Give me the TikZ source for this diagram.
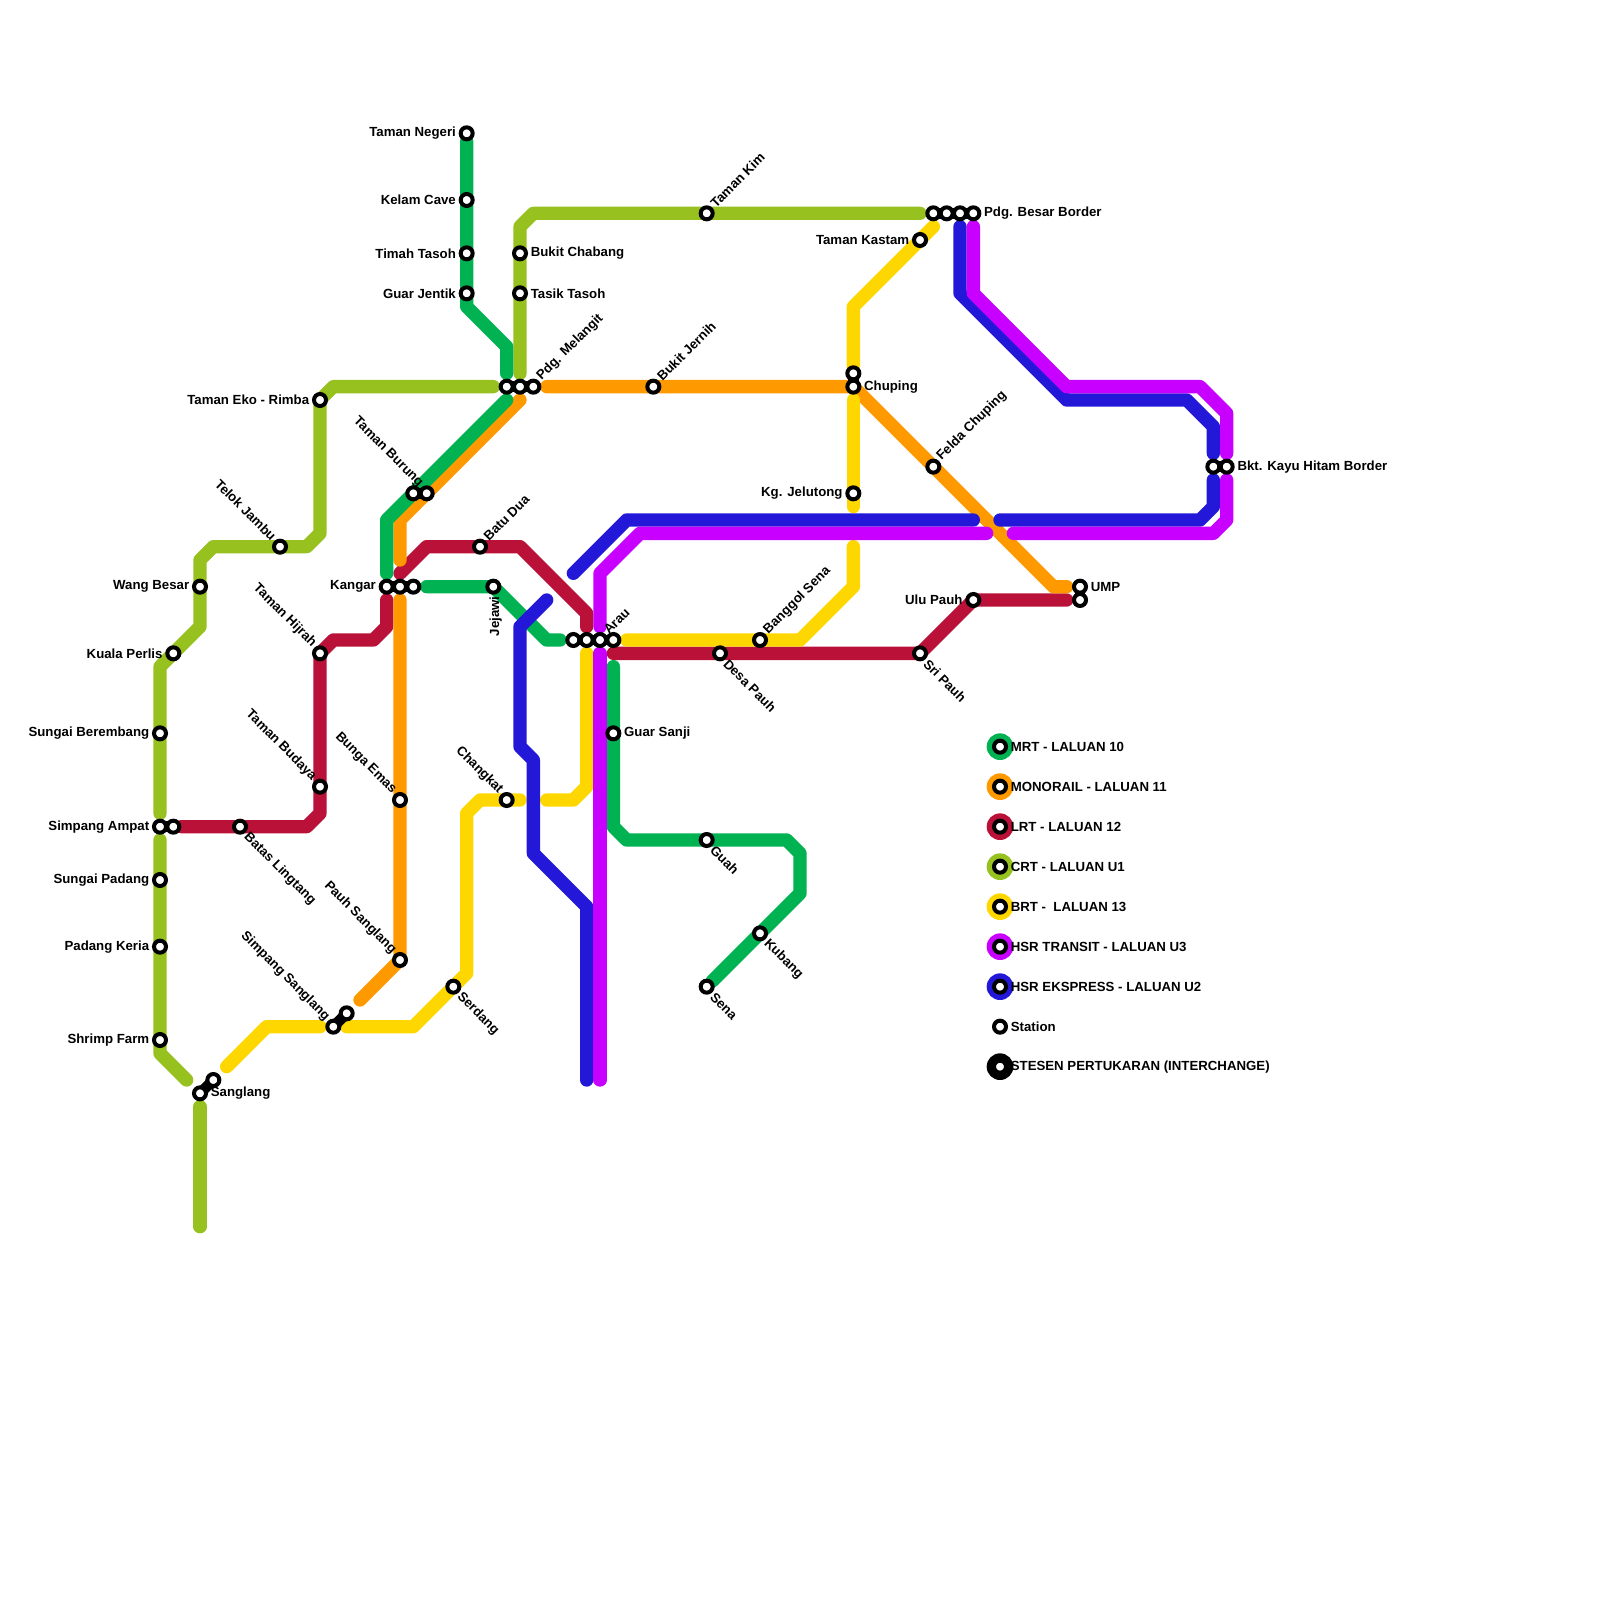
\documentclass[tikz,border=0pt]{standalone}
\usepackage{fontspec}
\setmainfont{Liberation Sans}
\usepackage{xcolor}
\usepackage{tikz}
\usetikzlibrary{backgrounds}

\definecolor{mrtgreen}{HTML}{00B251}
\definecolor{monoorange}{HTML}{FF9900}
\definecolor{lrtred}{HTML}{BA1139}
\definecolor{crtlime}{HTML}{96C11E}
\definecolor{brtyellow}{HTML}{FFD700}
\definecolor{transitpurple}{HTML}{C800FF}
\definecolor{ekspressblue}{HTML}{2318D8}

\begin{document}
\begin{tikzpicture}[
    x=0.2cm, y=-0.2cm,
    station/.style={draw=black, fill=white, circle, line width=0.06cm, minimum size=0.18cm, inner sep=0pt},
    swatch/.style={circle, minimum size=0.4cm, inner sep=0pt},
    every label/.style={font=\bfseries\fontsize{5.65}{6.5}\selectfont, inner sep=0pt, text=black},
    label distance=1pt,
    lbne/.style={rotate=45, anchor=west},
    lbnw/.style={rotate=-45, anchor=east},
    lbse/.style={rotate=-45, anchor=west},
    lbdown/.style={rotate=90, anchor=east, xshift=-0.6pt},
    route/.style={line width=0.2cm, line cap=round, line join=round},
    mrt/.style={route, draw=mrtgreen},
    mono/.style={route, draw=monoorange},
    lrt/.style={route, draw=lrtred},
    crt/.style={route, draw=crtlime},
    brt/.style={route, draw=brtyellow},
    transit/.style={route, draw=transitpurple},
    ekspress/.style={route, draw=ekspressblue},
    link/.style={draw=black, line width=0.16cm}
]

\useasboundingbox (0,0) rectangle (120,120);

% MRT
\node[station, label={180:Taman Negeri}] (tamanNegeri) at (35,10) {};
\node[station, label={180:Kelam Cave}] (kelamCave) at (35,15) {};
\node[station, label={180:Timah Tasoh}] (timahTasoh) at (35,19) {};
\node[station, label={180:Guar Jentik}] (guarJentik) at (35,22) {};
\node[station, label={[lbdown]270:Jejawi}] (jejawi) at (37,44) {};
\node[station, label={0:Guar Sanji}] (guarSanji) at (46,55) {};
\node[station, label={[lbse]-45:Guah}] (guah) at (53,63) {};
\node[station, label={[lbse]-45:Kubang}] (kubang) at (57,70) {};
\node[station, label={[lbse]-45:Sena}] (sena) at (53,74) {};

% interchanges
\node[station] (melangitA) at (38,29) {};
\node[station] (melangitB) at (39,29) {};
\node[station, label={[lbne]45:Pdg. Melangit}] (melangitC) at (40,29) {};
\node[station] (burungA) at (31,37) {};
\node[station, label={[lbnw]135:Taman Burung}] (burungB) at (32,37) {};
\node[station, label={180:Kangar}] (kangarA) at (29,44) {};
\node[station] (kangarB) at (30,44) {};
\node[station] (kangarC) at (31,44) {};
\node[station] (arauA) at (43,48) {};
\node[station] (arauB) at (44,48) {};
\node[station, label={[lbne]45:Arau}] (arauC) at (45,48) {};
\node[station] (arauD) at (46,48) {};
\node[station] (besarA) at (70,16) {};
\node[station] (besarB) at (71,16) {};
\node[station] (besarC) at (72,16) {};
\node[station, label={0:Pdg. Besar Border}] (besarD) at (73,16) {};
\node[station] (hitamA) at (91,35) {};
\node[station, label={0:Bkt. Kayu Hitam Border}] (hitamB) at (92,35) {};
\node[station, label={0:UMP}] (umpA) at (81,44) {};
\node[station] (umpB) at (81,45) {};
\node[station] (chupingA) at (64,28) {};
\node[station, label={0:Chuping}] (chupingB) at (64,29) {};
\node[station, label={[lbnw]135:Simpang Sanglang}] (simpangA) at (25,77) {};
\node[station] (simpangB) at (26,76) {};
\node[station, label={0:Sanglang}] (sanglangA) at (15,82) {};
\node[station] (sanglangB) at (16,81) {};
\node[station, label={180:Simpang Ampat}] (ampatA) at (12,62) {};
\node[station] (ampatB) at (13,62) {};

% Monorail
\node[station, label={[lbne]45:Bukit Jernih}] (bukitJernih) at (49,29) {};
\node[station, label={[lbne]45:Felda Chuping}] (feldaChuping) at (70,35) {};
\node[station, label={[lbnw]135:Bunga Emas}] (bungaEmas) at (30,60) {};
\node[station, label={[lbnw]135:Pauh Sanglang}] (pauhSanglang) at (30,72) {};

% LRT
\node[station, label={[lbse]-45:Batas Lingtang}] (batasLingtang) at (18,62) {};
\node[station, label={[lbnw]135:Taman Budaya}] (tamanBudaya) at (24,59) {};
\node[station, label={[lbnw]135:Taman Hijrah}] (tamanHijrah) at (24,49) {};
\node[station, label={[lbne]45:Batu Dua}] (batuDua) at (36,41) {};
\node[station, label={[lbse]-45:Desa Pauh}] (desaPauh) at (54,49) {};
\node[station, label={[lbse]-45:Sri Pauh}] (sriPauh) at (69,49) {};
\node[station, label={180:Ulu Pauh}] (uluPauh) at (73,45) {};

% CRT
\node[station, label={180:Taman Eko - Rimba}] (tamanEko) at (24,30) {};
\node[station, label={[lbnw]135:Telok Jambu}] (telokJambu) at (21,41) {};
\node[station, label={180:Wang Besar}] (wangBesar) at (15,44) {};
\node[station, label={180:Kuala Perlis}] (kualaPerlis) at (13,49) {};
\node[station, label={180:Sungai Berembang}] (sungaiBerembang) at (12,55) {};
\node[station, label={180:Sungai Padang}] (sungaiPadang) at (12,66) {};
\node[station, label={180:Padang Keria}] (padangKeria) at (12,71) {};
\node[station, label={180:Shrimp Farm}] (shrimpFarm) at (12,78) {};
\node[station, label={0:Bukit Chabang}] (bukitChabang) at (39,19) {};
\node[station, label={0:Tasik Tasoh}] (tasikTasoh) at (39,22) {};
\node[station, label={[lbne]45:Taman Kim}] (tamanKim) at (53,16) {};

% BRT
\node[station, label={[lbse]-45:Serdang}] (serdang) at (34,74) {};
\node[station, label={[lbnw]135:Changkat}] (changkat) at (38,60) {};
\node[station, label={[lbne]45:Banggol Sena}] (banggolSena) at (57,48) {};
\node[station, label={180:Kg. Jelutong}] (kgJelutong) at (64,37) {};
\node[station, label={180:Taman Kastam}] (tamanKastam) at (69,18) {};

% free line ends
\coordinate (mrtA) at (38,28);
\coordinate (mrtB) at (38,30);
\coordinate (mrtC) at (29,43);
\coordinate (mrtD) at (32,44);
\coordinate (mrtE) at (42,48);
\coordinate (mrtF) at (46,50);
\coordinate (monoA) at (41,29);
\coordinate (monoB) at (80,44);
\coordinate (monoC) at (39,30);
\coordinate (monoD) at (30,42);
\coordinate (monoE) at (30,45);
\coordinate (monoF) at (27,75);
\coordinate (lrtA) at (29,45);
\coordinate (lrtB) at (30,43);
\coordinate (lrtC) at (44,47);
\coordinate (lrtD) at (46,49);
\coordinate (lrtE) at (80,45);
\coordinate (crtA) at (12,61);
\coordinate (crtB) at (37,29);
\coordinate (crtC) at (12,63);
\coordinate (crtD) at (14,81);
\coordinate (crtE) at (15,83);
\coordinate (crtF) at (15,92);
\coordinate (crtG) at (39,28);
\coordinate (crtH) at (69,16);
\coordinate (brtA) at (17,80);
\coordinate (brtB) at (24,77);
\coordinate (brtC) at (26,77);
\coordinate (brtD) at (39,60);
\coordinate (brtE) at (41,60);
\coordinate (brtF) at (44,49);
\coordinate (brtG) at (47,48);
\coordinate (brtH) at (64,41);
\coordinate (brtI) at (64,30);
\coordinate (brtJ) at (64,38);
\coordinate (brtK) at (70,17);
\coordinate (transitA) at (45,47);
\coordinate (transitB) at (74,40);
\coordinate (transitC) at (45,49);
\coordinate (transitD) at (45,81);
\coordinate (transitE) at (73,17);
\coordinate (transitF) at (92,34);
\coordinate (transitG) at (92,36);
\coordinate (transitH) at (76,40);
\coordinate (ekspressA) at (72,17);
\coordinate (ekspressB) at (91,34);
\coordinate (ekspressC) at (91,36);
\coordinate (ekspressD) at (75,39);
\coordinate (ekspressE) at (43,43);
\coordinate (ekspressF) at (73,39);
\coordinate (ekspressG) at (41,45);
\coordinate (ekspressH) at (44,81);

% legend
\node[swatch, fill=mrtgreen] (keyMrt) at (75,56) {};
\node[swatch, fill=monoorange] (keyMono) at (75,59) {};
\node[swatch, fill=lrtred] (keyLrt) at (75,62) {};
\node[swatch, fill=crtlime] (keyCrt) at (75,65) {};
\node[swatch, fill=brtyellow] (keyBrt) at (75,68) {};
\node[swatch, fill=transitpurple] (keyTransit) at (75,71) {};
\node[swatch, fill=ekspressblue] (keyEkspress) at (75,74) {};
\node[swatch, fill=black] (keyInterchange) at (75,80) {};
\node[station, label={0:MRT - LALUAN 10}] (stnMrt) at (75,56) {};
\node[station, label={0:MONORAIL - LALUAN 11}] (stnMono) at (75,59) {};
\node[station, label={0:LRT - LALUAN 12}] (stnLrt) at (75,62) {};
\node[station, label={0:CRT - LALUAN U1}] (stnCrt) at (75,65) {};
\node[station, label={0:BRT - \ LALUAN 13}] (stnBrt) at (75,68) {};
\node[station, label={0:HSR TRANSIT - LALUAN U3}] (stnTransit) at (75,71) {};
\node[station, label={0:HSR EKSPRESS - LALUAN U2}] (stnEkspress) at (75,74) {};
\node[station, label={0:Station}] (stnPlain) at (75,77) {};
\node[station, label={0:STESEN PERTUKARAN (INTERCHANGE)}] (stnInterchange) at (75,80) {};

\begin{scope}[on background layer]
\draw[lrt] (ampatB) -- (23,62) -- (24,61) -- (24,49) -- (25,48) -- (28,48) -- (29,47) -- (lrtA);
\draw[lrt] (lrtB) -- (32,41) -- (39,41) -- (44,46) -- (lrtC);
\draw[lrt] (lrtD) -- (69,49) -- (73,45) -- (lrtE);

\draw[mono] (monoA) -- (64,29) -- (79,44) -- (monoB);
\draw[mono] (monoC) -- (30,39) -- (monoD);
\draw[mono] (monoE) -- (30,72) -- (monoF);

\draw[crt] (crtA) -- (12,50) -- (15,47) -- (15,42) -- (16,41) -- (23,41) -- (24,40) -- (24,30) -- (25,29) -- (crtB);
\draw[crt] (crtC) -- (12,79) -- (crtD);
\draw[crt] (crtE) -- (crtF);
\draw[crt] (crtG) -- (39,17) -- (40,16) -- (crtH);

\draw[brt] (brtA) -- (20,77) -- (brtB);
\draw[brt] (brtC) -- (31,77) -- (35,73) -- (35,61) -- (36,60) -- (brtD);
\draw[brt] (brtE) -- (43,60) -- (44,59) -- (brtF);
\draw[brt] (brtG) -- (60,48) -- (64,44) -- (brtH);
\draw[brt] (brtI) -- (brtJ);
\draw[brt] (chupingA) -- (64,23) -- (brtK);

\draw[mrt] (tamanNegeri) -- (35,23) -- (38,26) -- (mrtA);
\draw[mrt] (mrtB) -- (29,39) -- (mrtC);
\draw[mrt] (mrtD) -- (37,44) -- (41,48) -- (mrtE);
\draw[mrt] (mrtF) -- (46,62) -- (47,63) -- (59,63) -- (60,64) -- (60,67) -- (sena);

\draw[ekspress] (ekspressA) -- (72,22) -- (80,30) -- (89,30) -- (91,32) -- (ekspressB);
\draw[ekspress] (ekspressC) -- (91,38) -- (90,39) -- (ekspressD);
\draw[ekspress] (ekspressE) -- (47,39) -- (ekspressF);
\draw[ekspress] (ekspressG) -- (39,47) -- (39,56) -- (40,57) -- (40,64) -- (44,68) -- (ekspressH);

\draw[transit] (transitA) -- (45,43) -- (48,40) -- (transitB);
\draw[transit] (transitC) -- (transitD);
\draw[transit] (transitE) -- (73,22) -- (80,29) -- (90,29) -- (92,31) -- (transitF);
\draw[transit] (transitG) -- (92,39) -- (91,40) -- (transitH);

\draw[link] (melangitA.center) -- (melangitC.center);
\draw[link] (burungA.center) -- (burungB.center);
\draw[link] (kangarA.center) -- (kangarC.center);
\draw[link] (arauA.center) -- (arauD.center);
\draw[link] (besarA.center) -- (besarD.center);
\draw[link] (hitamA.center) -- (hitamB.center);
\draw[link] (umpA.center) -- (umpB.center);
\draw[link] (chupingA.center) -- (chupingB.center);
\draw[link] (simpangA.center) -- (simpangB.center);
\draw[link] (sanglangA.center) -- (sanglangB.center);
\draw[link] (ampatA.center) -- (ampatB.center);
\end{scope}

\end{tikzpicture}
\end{document}
